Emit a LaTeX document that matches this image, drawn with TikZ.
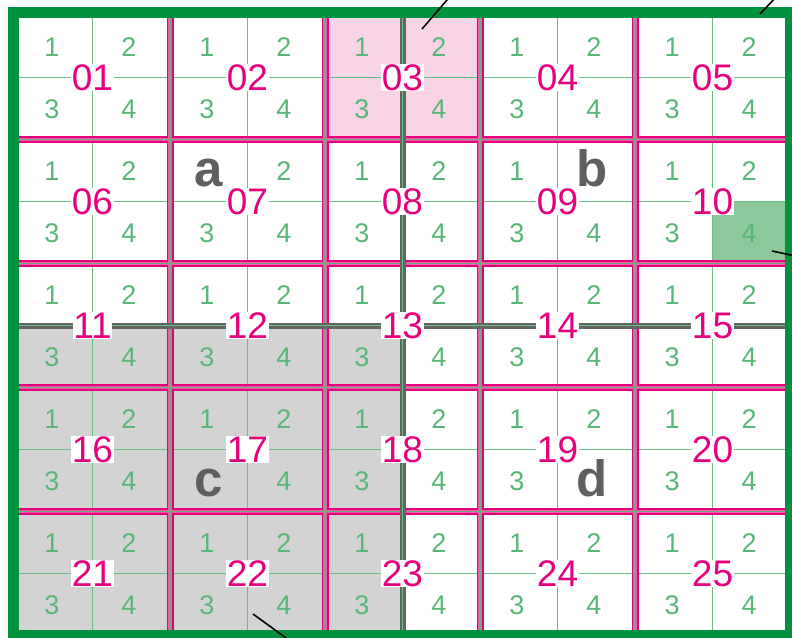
\documentclass[tikz,border=0pt]{standalone}
\usepackage{fontspec}
\setmainfont{Liberation Sans}
\usepackage{xcolor}
\usetikzlibrary{positioning, calc}

\definecolor{framegreen}{RGB}{0,146,63}
\definecolor{gridgreen}{RGB}{105,192,130}
\definecolor{digitgreen}{RGB}{90,182,120}
\definecolor{cellmagenta}{RGB}{230,0,126}
\definecolor{cellpink}{RGB}{240,90,165}
\definecolor{pinkfill}{RGB}{248,212,230}
\definecolor{quadgreen}{RGB}{141,200,155}
\definecolor{areagray}{RGB}{211,211,211}
\definecolor{lettergray}{RGB}{95,95,95}
\definecolor{axisgray}{RGB}{100,100,100}

\begin{document}
\begin{tikzpicture}[
    x=1pt, y=-1pt,
    cellnum/.style={fill=white, text=cellmagenta, inner xsep=0.5pt, inner ysep=0.5pt, text height=26.5pt, text depth=0pt, font=\fontsize{37}{37}\selectfont},
    quadnum/.style={text=digitgreen, inner sep=0pt, text height=19pt, text depth=0pt, font=\fontsize{27}{27}\selectfont},
    arealetter/.style={text=lettergray, inner sep=0pt, anchor=base, font=\fontsize{51}{51}\selectfont\bfseries},
    halfline/.style={gridgreen, line width=1.6pt},
    cellline/.style={cellmagenta, line width=7pt},
    cellcore/.style={cellpink, line width=3.6pt},
    cellmid/.style={gridgreen!65!gray, line width=1.8pt},
    axisline/.style={axisgray, line width=6pt},
    outerframe/.style={framegreen, line width=11pt},
    leader/.style={black, line width=1.6pt}
]
    \useasboundingbox (0,0) rectangle (792,637);
    \clip (0,0) rectangle (792,637);

    % ================= SHADED AREAS =================
    \fill[areagray] (15,325.5) rectangle (402.5,635.5);
    \fill[pinkfill] (325,15.5) rectangle (480,139.5);
    \fill[quadgreen] (712.5,201.5) rectangle (790,263.5);

    % ================= QUARTER GRID =================
    \foreach \i in {0,...,10} {
        \draw[halfline] ({15+77.5*\i},15.5) -- ({15+77.5*\i},635.5);
        \draw[halfline] (15,{15.5+62*\i}) -- (790,{15.5+62*\i});
    }

    % ================= CELL BORDERS =================
    \foreach \s in {cellline,cellcore,cellmid} {
        \foreach \i in {1,...,4} {
            \draw[\s] ({15+155*\i},15.5) -- ({15+155*\i},635.5);
            \draw[\s] (15,{15.5+124*\i}) -- (790,{15.5+124*\i});
        }
    }

    % ================= AREA AXES =================
    \draw[axisline] (402.5,15.5) -- (402.5,635.5);
    \draw[axisline] (15,325.5) -- (790,325.5);
    \draw[halfline] (402.5,15.5) -- (402.5,635.5);
    \draw[halfline] (15,325.5) -- (790,325.5);

    % ================= QUARTER NUMBERS =================
    % quarters taken by the area letters stay empty
    \foreach \r in {0,...,4} {
        \foreach \c in {0,...,4} {
            \pgfmathtruncatemacro\n{5*\r+\c+1}
            \ifnum\n=7 \else
                \node[quadnum] (q\n-1) at ({15+155*\c+37},{15.5+124*\r+31}) {1};
            \fi
            \ifnum\n=9 \else
                \node[quadnum] (q\n-2) at ({15+155*\c+114},{15.5+124*\r+31}) {2};
            \fi
            \ifnum\n=17 \else
                \node[quadnum] (q\n-3) at ({15+155*\c+37},{15.5+124*\r+93}) {3};
            \fi
            \ifnum\n=19 \else
                \node[quadnum] (q\n-4) at ({15+155*\c+114},{15.5+124*\r+93}) {4};
            \fi
        }
    }

    % ================= CELL NUMBERS =================
    \node[cellnum] (n01) at (92.5,77.5) {01};
    \node[cellnum] (n02) at (247.5,77.5) {02};
    \node[cellnum] (n03) at (402.5,77.5) {03};
    \node[cellnum] (n04) at (557.5,77.5) {04};
    \node[cellnum] (n05) at (712.5,77.5) {05};

    \node[cellnum] (n06) at (92.5,201.5) {06};
    \node[cellnum] (n07) at (247.5,201.5) {07};
    \node[cellnum] (n08) at (402.5,201.5) {08};
    \node[cellnum] (n09) at (557.5,201.5) {09};
    \node[cellnum] (n10) at (712.5,201.5) {10};

    \node[cellnum] (n11) at (92.5,325.5) {11};
    \node[cellnum] (n12) at (247.5,325.5) {12};
    \node[cellnum] (n13) at (402.5,325.5) {13};
    \node[cellnum] (n14) at (557.5,325.5) {14};
    \node[cellnum] (n15) at (712.5,325.5) {15};

    \node[cellnum] (n16) at (92.5,449.5) {16};
    \node[cellnum] (n17) at (247.5,449.5) {17};
    \node[cellnum] (n18) at (402.5,449.5) {18};
    \node[cellnum] (n19) at (557.5,449.5) {19};
    \node[cellnum] (n20) at (712.5,449.5) {20};

    \node[cellnum] (n21) at (92.5,573.5) {21};
    \node[cellnum] (n22) at (247.5,573.5) {22};
    \node[cellnum] (n23) at (402.5,573.5) {23};
    \node[cellnum] (n24) at (557.5,573.5) {24};
    \node[cellnum] (n25) at (712.5,573.5) {25};

    % ================= AREA LETTERS =================
    \node[arealetter] (la) at (209,186) {a};
    \node[arealetter] (lb) at (592,186) {b};
    \node[arealetter] (lc) at (209,496) {c};
    \node[arealetter] (ld) at (592,496) {d};

    % ================= FRAME =================
    \draw[outerframe] (13.5,12.5) rectangle (790.5,635.5);

    % ================= LEADERS =================
    \coordinate (p03) at (422,29);   \coordinate (p03out) at (453,-7);
    \coordinate (p05) at (760,14);   \coordinate (p05out) at (778,-5);
    \coordinate (p10) at (772,251);  \coordinate (p10out) at (800,257);
    \coordinate (p22) at (253,614);  \coordinate (p22out) at (293,643);

    \draw[leader] (p03) -- (p03out);
    \draw[leader] (p05) -- (p05out);
    \draw[leader] (p10) -- (p10out);
    \draw[leader] (p22) -- (p22out);

\end{tikzpicture}
\end{document}
